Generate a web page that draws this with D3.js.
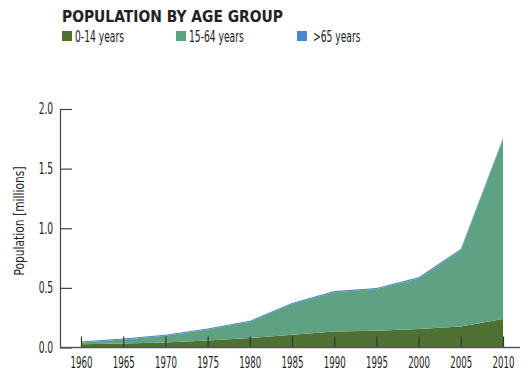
<!DOCTYPE html>
<html><head><meta charset="utf-8">
<script src="https://cdn.jsdelivr.net/npm/d3@7"></script>
<style>
body{margin:0;background:#fff;}
text{font-family:"DejaVu Sans";font-stretch:condensed;fill:#222;}
</style></head>
<body><svg id="c" width="525" height="375"></svg>
<script>
const years = [1960,1965,1970,1975,1980,1985,1990,1995,2000,2005,2010];
const age0_14 = [0.028,0.034,0.042,0.059,0.079,0.107,0.134,0.140,0.155,0.176,0.239];
const age15_64 = [0.014,0.034,0.056,0.092,0.136,0.257,0.330,0.350,0.424,0.639,1.502];
const age65 = [0.008,0.008,0.009,0.009,0.009,0.009,0.010,0.010,0.011,0.011,0.013];
const seriesNames = ["0-14 years","15-64 years",">65 years"];
const colors = ["#4e7033","#5fa283","#4a86c8"];
const yTicks = [0,0.5,1,1.5,2];

const svg = d3.select("#c");
const x = d3.scaleLinear().domain([1960,2010]).range([81,503]);
const y = d3.scaleLinear().domain([0,2]).range([347.5,109]);

const rows = years.map((yr,i)=>({year:yr,a:age0_14[i],b:age15_64[i],c:age65[i]}));
const stack = d3.stack().keys(["a","b","c"])(rows);
const area = d3.area().x(d=>x(d.data.year)).y0(d=>y(d[0])).y1(d=>y(d[1]));
svg.append("g").selectAll("path").data(stack).join("path")
  .attr("d",area).attr("fill",(d,i)=>colors[i]);

// title
svg.append("text").attr("x",62).attr("y",22).text("POPULATION BY AGE GROUP")
  .attr("textLength",221).attr("lengthAdjust","spacingAndGlyphs")
  .style("font-weight","bold").style("font-stretch","normal").style("font-size","15.5px").attr("fill","#1a1a1a");

// legend
const lx = [62,176,297];
const lg = svg.append("g").selectAll("g").data(seriesNames).join("g")
  .attr("transform",(d,i)=>`translate(${lx[i]},31)`);
lg.append("rect").attr("width",10).attr("height",10).attr("fill",(d,i)=>colors[i]);
lg.append("text").attr("transform",(d,i)=>`translate(${i==2?16:13},10.5) scale(0.68,1)`)
  .text(d=>d).style("font-size","15px");

// axes
const yAxis = d3.axisLeft(y).tickValues(yTicks).tickFormat(d3.format(".1f"))
  .tickSizeInner(-12).tickSizeOuter(0).tickPadding(10);
const gy = svg.append("g").attr("transform","translate(60,0)").call(yAxis);
gy.selectAll("text").style("font-size","15px").attr("transform","scale(0.68,1)");
gy.selectAll("line,path").attr("stroke","#444").attr("stroke-width",1.2);

const xAxis = d3.axisBottom(x).tickValues(years).tickFormat(d3.format("d"))
  .tickSizeInner(-11).tickSizeOuter(0).tickPadding(10);
const gx = svg.append("g").attr("transform","translate(0,347.5)").call(xAxis);
gx.select(".domain").remove();
gx.selectAll("text").style("font-size","15px").attr("transform","scale(0.64,1)");
gx.selectAll("line").attr("stroke","#333").attr("stroke-width",1.2);
svg.append("line").attr("x1",60).attr("x2",520).attr("y1",347.5).attr("y2",347.5)
  .attr("stroke","#555").attr("stroke-width",1.5);

svg.append("text").attr("transform","translate(24,221) rotate(-90) scale(0.85,1)")
  .attr("text-anchor","middle").text("Population [millions]").style("font-size","14px");
</script></body></html>
